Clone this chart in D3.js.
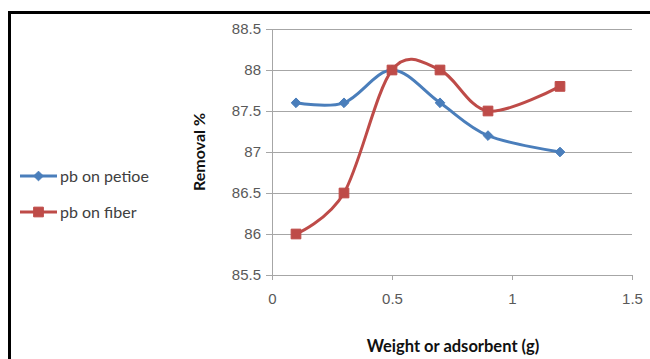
<!DOCTYPE html>
<html>
<head>
<meta charset="utf-8">
<script src="https://cdn.jsdelivr.net/npm/d3@7"></script>
<style>
  body { margin: 0; background: #fff; }
  svg { display: block; font-family: Lato, "Open Sans", sans-serif; }
</style>
</head>
<body>
<div id="chart"></div>
<script>
// chart data
const weights = [0.1, 0.3, 0.5, 0.7, 0.9, 1.2];
const petioe = [87.6, 87.6, 88.0, 87.6, 87.2, 87.0];
const fiber = [86.0, 86.5, 88.0, 88.0, 87.5, 87.8];
const seriesNames = ['pb on petioe', 'pb on fiber'];
const xTicks = [0, 0.5, 1, 1.5];
const yTicks = [85.5, 86, 86.5, 87, 87.5, 88, 88.5];

const W = 650, H = 359;
const margin = {top: 29, right: 18, bottom: 84, left: 272};
const width = W - margin.left - margin.right;
const height = H - margin.top - margin.bottom;

const svg = d3.select('#chart')
    .append('svg')
    .attr('width', W)
    .attr('height', H);

// outer frame
svg.append('rect')
    .attr('x', 9.5)
    .attr('y', 12.5)
    .attr('width', W + 20)
    .attr('height', H + 20)
    .attr('fill', 'none')
    .attr('stroke', '#000')
    .attr('stroke-width', 3);

const g = svg.append('g')
    .attr('transform', 'translate(' + margin.left + ',' + margin.top + ')');

const x = d3.scaleLinear().domain([0, 1.5]).range([0, width]);
const y = d3.scaleLinear().domain([85.5, 88.5]).range([height, 0]);

// gridlines
g.append('g')
    .selectAll('line')
    .data(yTicks.slice(1))
    .enter()
    .append('line')
    .attr('x1', 0)
    .attr('x2', width)
    .attr('y1', d => Math.round(y(d)) + 0.5)
    .attr('y2', d => Math.round(y(d)) + 0.5)
    .attr('stroke', '#a6a6a6')
    .attr('stroke-width', 1);

// axes
const yAxis = d3.axisLeft(y).tickValues(yTicks).tickSize(6).tickPadding(5)
    .tickFormat(d3.format('~g'));
const xAxis = d3.axisBottom(x).tickValues(xTicks).tickSize(5).tickPadding(13)
    .tickFormat(d3.format('~g'));

g.append('g')
    .call(yAxis)
    .call(a => a.select('.domain').attr('stroke', '#a6a6a6'))
    .call(a => a.selectAll('.tick line').attr('stroke', '#a6a6a6'))
    .call(a => a.selectAll('.tick text')
        .attr('fill', '#595959')
        .attr('font-size', '15px'));

g.append('g')
    .attr('transform', 'translate(0,' + height + ')')
    .call(xAxis)
    .call(a => a.select('.domain').attr('stroke', '#a6a6a6'))
    .call(a => a.selectAll('.tick line').attr('stroke', '#a6a6a6'))
    .call(a => a.selectAll('.tick text')
        .attr('fill', '#595959')
        .attr('font-size', '15px'));

// axis titles
svg.append('text')
    .attr('transform', 'translate(205,152) rotate(-90)')
    .attr('text-anchor', 'middle')
    .attr('font-size', '16px')
    .attr('font-weight', 'bold')
    .attr('fill', '#111')
    .text('Removal %');

svg.append('text')
    .attr('x', 453)
    .attr('y', 352)
    .attr('text-anchor', 'middle')
    .attr('font-size', '16.5px')
    .attr('font-weight', 'bold')
    .attr('fill', '#111')
    .text('Weight or adsorbent (g)');

// series
const series = [
  {name: seriesNames[0], values: petioe, color: '#4a7ebb', marker: d3.symbolDiamond2, size: 60},
  {name: seriesNames[1], values: fiber, color: '#be4b48', marker: d3.symbolSquare2, size: 120}
];

const line = d3.line()
    .x((d, i) => x(weights[i]))
    .y(d => y(d))
    .curve(d3.curveCatmullRom.alpha(0));

series.forEach(s => {
  g.append('path')
      .datum(s.values)
      .attr('fill', 'none')
      .attr('stroke', s.color)
      .attr('stroke-width', 3)
      .attr('d', line);
});

series.forEach(s => {
  g.append('g')
      .selectAll('path')
      .data(s.values)
      .enter()
      .append('path')
      .attr('transform', (d, i) => 'translate(' + x(weights[i]) + ',' + y(d) + ')')
      .attr('d', d3.symbol().type(s.marker).size(s.size))
      .attr('fill', s.color)
      .attr('stroke', s.color);
});

// legend
const legend = svg.append('g')
    .selectAll('g')
    .data(series)
    .enter()
    .append('g')
    .attr('transform', (d, i) => 'translate(20,' + (176 + i * 36) + ')');

legend.append('line')
    .attr('x1', 0)
    .attr('x2', 37)
    .attr('stroke', d => d.color)
    .attr('stroke-width', 3);

legend.append('path')
    .attr('transform', 'translate(18.5,0)')
    .attr('d', d => d3.symbol().type(d.marker).size(d.size)())
    .attr('fill', d => d.color)
    .attr('stroke', d => d.color);

legend.append('text')
    .attr('x', 40)
    .attr('y', 0)
    .attr('dy', '0.35em')
    .attr('font-size', '16px')
    .attr('fill', '#404040')
    .text(d => d.name);
</script>
</body>
</html>
